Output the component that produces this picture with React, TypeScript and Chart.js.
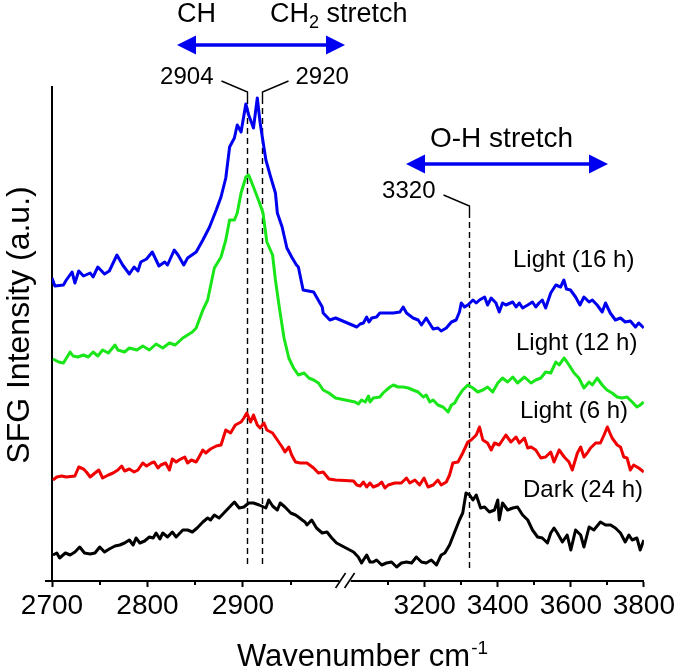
import React, { useEffect, useRef } from 'react';
import { Chart, registerables, LinearScale } from 'chart.js';

Chart.register(...registerables);

// ---------------- data ----------------
const blueWavenumber = [2700,2703,2712,2715,2721,2724,2728,2733,2740,2743,2748,2755,2760,2768,2774,2781,2786,2790,2793,2799,2805,2812,2818,2821,2828,2832,2838,2842,2851,2858,2865,2872,2877,2882,2886,2891,2894,2898,2903,2906,2911,2915,2918,2924,2929,2934,2936,2941,2946,2951,2956,2958,2963,2974,2983,2984,2991,2997,3014,3023,3032,3041,3047,3055,3068,3077,3095,3114,3132,3141,3150,3168,3182,3191,3204,3209,3223,3236,3245,3259,3273,3286,3295,3300,3309,3318,3332,3341,3350,3364,3372,3382,3395,3404,3413,3422,3441,3450,3459,3468,3482,3495,3504,3513,3522,3531,3545,3559,3572,3581,3588,3599,3613,3625,3636,3650,3659,3672,3686,3695,3708,3722,3736,3749,3763,3777,3786,3800];
const blueIntensity = [303,295,296,301,309,298,310,305,308,304,314,307,310,326,316,307,314,310,319,322,329,315,319,316,331,326,316,323,329,341,354,371,384,403,434,443,456,449,477,466,453,483,458,421,404,388,368,354,333,324,316,314,291,289,274,268,261,263,254,257,258,264,259,263,264,268,268,268,269,274,268,263,261,256,263,260,252,253,250,253,259,261,269,278,274,276,281,278,281,284,276,283,278,269,278,276,279,274,278,273,276,279,274,278,281,273,288,296,294,301,292,291,284,276,284,279,281,276,269,278,268,261,263,259,260,254,258,253];

const greenWavenumber = [2701,2707,2712,2719,2722,2727,2733,2738,2743,2748,2753,2759,2766,2769,2776,2781,2789,2795,2802,2809,2816,2823,2829,2837,2847,2851,2858,2863,2870,2877,2882,2886,2891,2894,2898,2903,2906,2911,2917,2921,2925,2931,2934,2938,2943,2948,2953,2958,2964,2969,2974,2979,2984,2990,2997,3009,3018,3027,3037,3046,3050,3059,3077,3086,3095,3105,3114,3127,3141,3155,3168,3182,3196,3204,3214,3223,3236,3250,3264,3273,3282,3291,3304,3318,3332,3345,3359,3372,3386,3400,3413,3427,3441,3454,3473,3491,3504,3518,3531,3545,3559,3568,3582,3595,3609,3622,3636,3650,3659,3672,3686,3699,3713,3727,3740,3754,3768,3781,3790,3800];
const greenIntensity = [222,219,218,229,225,224,226,224,229,225,231,228,236,231,229,233,231,235,231,237,233,238,236,243,249,253,271,281,313,324,341,361,361,368,388,404,406,394,379,368,339,326,301,274,243,223,213,206,208,203,201,198,191,188,183,179,177,181,179,185,179,183,184,188,191,194,196,194,194,193,191,189,184,186,179,181,176,174,169,176,178,184,191,196,193,189,191,194,189,198,203,199,204,198,204,198,201,203,209,208,219,216,223,216,208,203,193,199,196,203,196,191,188,184,183,184,179,174,176,179];

const redWavenumber = [2701,2705,2710,2715,2724,2728,2733,2736,2740,2745,2749,2753,2759,2764,2769,2773,2776,2781,2786,2790,2795,2799,2804,2807,2811,2814,2819,2823,2826,2830,2833,2839,2842,2846,2851,2854,2858,2861,2866,2872,2877,2882,2887,2892,2898,2901,2904,2908,2911,2915,2918,2922,2925,2931,2936,2941,2944,2948,2951,2955,2960,2967,2974,2979,2984,2990,2997,3005,3014,3023,3032,3041,3050,3059,3073,3082,3091,3100,3118,3136,3150,3159,3173,3186,3198,3209,3223,3236,3245,3259,3268,3277,3291,3304,3318,3327,3341,3350,3359,3372,3382,3391,3404,3422,3436,3450,3459,3473,3482,3491,3504,3518,3531,3545,3554,3568,3582,3595,3604,3618,3627,3636,3645,3654,3668,3681,3691,3700,3713,3727,3736,3745,3754,3763,3772,3786,3800];
const redIntensity = [101,104,105,104,105,114,112,109,104,108,111,103,106,108,111,115,110,112,109,111,118,115,118,119,113,116,118,111,122,119,121,124,118,121,119,124,131,128,132,135,136,151,148,156,159,163,168,159,166,156,153,158,151,148,141,134,129,134,126,119,118,118,113,108,109,102,101,100,96,95,99,94,98,94,96,99,93,96,98,98,103,98,101,96,103,94,96,101,96,99,106,118,119,128,139,141,146,154,141,138,131,138,136,146,139,144,138,143,133,134,131,123,124,129,119,131,124,119,111,128,134,124,128,133,138,138,146,154,143,136,134,124,123,111,116,113,109];

const blackWavenumber = [2701,2705,2708,2714,2719,2724,2729,2734,2740,2745,2750,2755,2760,2766,2771,2776,2781,2785,2788,2792,2797,2802,2806,2809,2813,2816,2821,2826,2830,2833,2837,2842,2847,2852,2858,2863,2866,2870,2875,2880,2885,2891,2896,2901,2906,2911,2917,2924,2927,2931,2936,2939,2944,2950,2955,2958,2962,2965,2967,2972,2977,2983,2988,2993,2998,3005,3018,3027,3032,3041,3050,3059,3068,3082,3095,3109,3123,3136,3150,3164,3177,3191,3204,3218,3232,3245,3255,3268,3282,3295,3304,3313,3323,3332,3341,3353,3364,3377,3391,3400,3404,3413,3427,3441,3454,3468,3482,3495,3509,3522,3536,3545,3554,3563,3577,3590,3600,3613,3627,3636,3650,3663,3681,3695,3709,3722,3736,3749,3759,3768,3781,3790,3800];
const blackIntensity = [26,28,23,28,26,29,34,28,27,28,34,29,32,35,36,38,41,36,43,38,40,44,43,48,42,48,44,49,44,47,51,51,49,53,59,63,61,66,63,68,73,79,73,74,78,78,76,73,81,75,71,78,74,68,66,64,61,59,56,61,53,48,49,43,38,29,24,18,21,26,19,19,21,16,18,19,14,18,19,18,24,19,18,21,16,26,28,36,49,61,68,88,86,81,86,73,74,69,71,81,61,78,71,73,74,66,61,51,44,43,38,48,53,48,39,46,31,51,46,34,54,51,59,56,56,53,48,39,46,41,43,31,41];

const seriesNames = ['Light (16 h)', 'Light (12 h)', 'Light (6 h)', 'Dark (24 h)'];
const seriesColors = ['#0000f0', '#19e619', '#f00000', '#000000'];

const majorTicks = [2700, 2800, 2900, 3200, 3400, 3600, 3800];
const minorTicks = [2750, 2850, 2950, 3100, 3300, 3500, 3700];

const markerWavenumbers = [2904, 2920, 3320];
const markerLabels = ['2904', '2920', '3320'];
const markerTop = [489, 489, 375];
const markerBottom = [16, 16, 11];
const markerSide = [-1, 1, -1];

// ---------------- broken x axis ----------------
const LEFT_MIN = 2700, BREAK = 3000, RIGHT_MAX = 3800;
const LEFT_FRAC = 0.484, RIGHT_START = 0.5064;

function toFrac(v: number) {
  if (v <= BREAK) return ((v - LEFT_MIN) / (BREAK - LEFT_MIN)) * LEFT_FRAC;
  return RIGHT_START + ((v - BREAK) / (RIGHT_MAX - BREAK)) * (1 - RIGHT_START);
}
function fromFrac(f: number) {
  if (f <= LEFT_FRAC) return LEFT_MIN + (f / LEFT_FRAC) * (BREAK - LEFT_MIN);
  if (f < RIGHT_START) return BREAK;
  return BREAK + ((f - RIGHT_START) / (1 - RIGHT_START)) * (RIGHT_MAX - BREAK);
}

class BrokenAxisScale extends LinearScale {
  static id = 'brokenAxis';
  static defaults = {};
  getPixelForValue(value: number) {
    if (value === null || value === undefined) return NaN;
    return this.getPixelForDecimal(toFrac(value));
  }
  getValueForPixel(pixel: number) {
    return fromFrac(this.getDecimalForPixel(pixel));
  }
}
Chart.register(BrokenAxisScale as any);

const FONT = "'Liberation Sans', Arial, sans-serif";

function drawText(ctx: CanvasRenderingContext2D, s: string, x: number, y: number, size: number, align: CanvasTextAlign = 'left', baseline: CanvasTextBaseline = 'middle') {
  ctx.font = `${size}px ${FONT}`;
  ctx.textAlign = align;
  ctx.textBaseline = baseline;
  ctx.fillStyle = '#000';
  ctx.fillText(s, x, y);
  return ctx.measureText(s).width;
}

function drawArrow(ctx: CanvasRenderingContext2D, x1: number, x2: number, y: number) {
  const head = 19, half = 9.5;
  ctx.fillStyle = '#0000f0';
  ctx.strokeStyle = '#0000f0';
  ctx.lineWidth = 3.5;
  ctx.beginPath();
  ctx.moveTo(x1 + head - 2, y);
  ctx.lineTo(x2 - head + 2, y);
  ctx.stroke();
  ctx.beginPath();
  ctx.moveTo(x1, y);
  ctx.lineTo(x1 + head, y - half);
  ctx.lineTo(x1 + head, y + half);
  ctx.closePath();
  ctx.fill();
  ctx.beginPath();
  ctx.moveTo(x2, y);
  ctx.lineTo(x2 - head, y - half);
  ctx.lineTo(x2 - head, y + half);
  ctx.closePath();
  ctx.fill();
}

const markerPlugin = {
  id: 'markers',
  beforeDatasetsDraw(chart: any) {
    const { ctx } = chart;
    const xs = chart.scales.x, ys = chart.scales.y;
    ctx.save();
    ctx.strokeStyle = '#000';
    ctx.lineWidth = 1.4;
    markerWavenumbers.forEach((w, i) => {
      const px = Math.round(xs.getPixelForValue(w)) + 0.5;
      const top = ys.getPixelForValue(markerTop[i]);
      const bot = ys.getPixelForValue(markerBottom[i]);
      ctx.setLineDash([]);
      ctx.beginPath();
      ctx.moveTo(px + markerSide[i] * 26, top - 11);
      ctx.lineTo(px, top);
      ctx.lineTo(px, top + 6);
      ctx.stroke();
      ctx.setLineDash([6, 4]);
      ctx.beginPath();
      ctx.moveTo(px, top + 6);
      ctx.lineTo(px, bot);
      ctx.stroke();
      ctx.setLineDash([]);
      if (markerSide[i] < 0) drawText(ctx, markerLabels[i], px - 34, top - 15, 24, 'right');
      else drawText(ctx, markerLabels[i], px + 33, top - 15, 24, 'left');
    });
    ctx.restore();
  },
  afterDraw(chart: any) {
    const { ctx } = chart;
    const xs = chart.scales.x, ys = chart.scales.y;
    const axisY = ys.bottom;
    ctx.save();
    // minor ticks
    ctx.strokeStyle = '#000';
    ctx.lineWidth = 2;
    minorTicks.forEach((v) => {
      const px = Math.round(xs.getPixelForValue(v));
      ctx.beginPath();
      ctx.moveTo(px, axisY);
      ctx.lineTo(px, axisY + 4);
      ctx.stroke();
    });
    // axis stub left of y axis
    ctx.beginPath();
    ctx.moveTo(xs.left - 7, axisY);
    ctx.lineTo(xs.left, axisY);
    ctx.stroke();
    // axis break
    const gl = xs.getPixelForDecimal(LEFT_FRAC);
    const gr = xs.getPixelForDecimal(RIGHT_START);
    ctx.fillStyle = '#fff';
    ctx.fillRect(gl + 1, axisY - 2, gr - gl - 2, 4);
    ctx.lineWidth = 1.6;
    const c = (gl + gr) / 2;
    [-4.5, 4.5].forEach((dx) => {
      ctx.beginPath();
      ctx.moveTo(c + dx - 5, axisY + 7);
      ctx.lineTo(c + dx + 5, axisY - 8);
      ctx.stroke();
    });

    // top annotations
    drawText(ctx, 'CH', 177, 15, 27);
    let x = 270;
    x += drawText(ctx, 'CH', x, 15, 27);
    x += drawText(ctx, '2', x, 23, 18);
    drawText(ctx, ' stretch', x, 15, 27);
    drawArrow(ctx, 177, 345, 45);
    drawText(ctx, 'O-H stretch', 430, 139, 28);
    drawArrow(ctx, 406, 608, 164);

    // series labels
    drawText(ctx, seriesNames[0], 513, 260, 24);
    drawText(ctx, seriesNames[1], 516, 343, 24);
    drawText(ctx, seriesNames[2], 520, 411, 24);
    drawText(ctx, seriesNames[3], 523, 490, 24);

    // x axis title
    let tx = 237;
    tx += drawText(ctx, 'Wavenumber cm', tx, 666, 31, 'left', 'alphabetic');
    drawText(ctx, '-1', tx + 1, 654, 19, 'left', 'alphabetic');

    // y axis title
    ctx.save();
    ctx.translate(28.5, 325);
    ctx.rotate(-Math.PI / 2);
    drawText(ctx, 'SFG Intensity (a.u.)', 0, 0, 32, 'center', 'alphabetic');
    ctx.restore();

    ctx.restore();
  },
};

function series(wn: number[], val: number[]) {
  return wn.map((w, i) => ({ x: w, y: val[i] }));
}

export default function App() {
  const ref = useRef<HTMLCanvasElement | null>(null);
  useEffect(() => {
    if (!ref.current) return;
    const data = [
      series(blueWavenumber, blueIntensity),
      series(greenWavenumber, greenIntensity),
      series(redWavenumber, redIntensity),
      series(blackWavenumber, blackIntensity),
    ];
    const chart = new Chart(ref.current, {
      type: 'line',
      data: {
        datasets: data.map((d, i) => ({
          label: seriesNames[i],
          data: d,
          borderColor: seriesColors[i],
          backgroundColor: seriesColors[i],
          borderWidth: 3,
          borderJoinStyle: 'round',
          pointRadius: 0,
          tension: 0,
          fill: false,
        })),
      },
      options: {
        responsive: false,
        animation: false,
        devicePixelRatio: 1,
        layout: { padding: { top: 87, right: 30, left: 0, bottom: 0 } },
        plugins: { legend: { display: false }, tooltip: { enabled: false } },
        scales: {
          x: {
            type: 'brokenAxis' as any,
            min: 2700,
            max: 3800,
            bounds: 'data',
            afterBuildTicks: (scale: any) => {
              scale.ticks = majorTicks.map((v) => ({ value: v }));
            },
            afterFit: (scale: any) => {
              scale.height = 90;
            },
            ticks: {
              autoSkip: false,
              maxRotation: 0,
              padding: 2,
              color: '#000',
              font: { family: "'Liberation Sans Narrow', 'Arial Narrow', 'Liberation Sans', sans-serif", size: 28 },
              callback: (v: any) => String(v),
            },
            grid: {
              display: true,
              drawOnChartArea: false,
              drawTicks: true,
              tickLength: 6,
              tickWidth: 2,
              tickColor: '#000',
              color: '#000',
            },
            border: { display: true, color: '#000', width: 2 },
          },
          y: {
            type: 'linear',
            min: 0,
            max: 494,
            afterFit: (scale: any) => {
              scale.width = 52;
            },
            ticks: { display: false },
            grid: { display: false, drawTicks: false },
            border: { display: true, color: '#000', width: 2 },
          },
        },
      },
      plugins: [markerPlugin],
    });
    return () => chart.destroy();
  }, []);
  return (
    <div style={{ position: 'absolute', left: 0, top: 0, width: 677, height: 671, background: '#fff' }}>
      <canvas ref={ref} width={677} height={671} style={{ width: 677, height: 671 }} />
    </div>
  );
}
